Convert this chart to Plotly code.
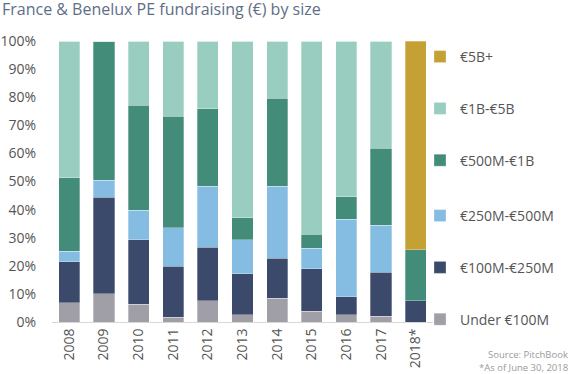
import plotly.graph_objects as go

years = ["2008", "2009", "2010", "2011", "2012", "2013", "2014", "2015", "2016", "2017", "2018*"]
series_names = ["Under €100M", "€100M-€250M", "€250M-€500M", "€500M-€1B", "€1B-€5B", "€5B+"]
under_100m = [6.8, 10.1, 6.3, 1.7, 7.6, 2.5, 8.4, 3.8, 2.5, 2.0, 0.0]
m100_250 = [14.7, 34.3, 22.9, 18.1, 19.0, 14.7, 14.3, 15.1, 6.4, 15.7, 7.5]
m250_500 = [3.6, 6.1, 10.6, 13.7, 21.7, 12.0, 25.6, 7.3, 27.6, 16.7, 0.0]
m500_1b = [26.2, 49.5, 37.3, 39.8, 27.6, 7.9, 31.4, 5.0, 8.0, 27.5, 18.3]
b1_5 = [48.7, 0.0, 22.9, 26.7, 24.1, 62.9, 20.3, 68.8, 55.5, 38.1, 0.0]
b5_plus = [0, 0, 0, 0, 0, 0, 0, 0, 0, 0, 74.2]
values = [under_100m, m100_250, m250_500, m500_1b, b1_5, b5_plus]
colors = ["#A09FA7", "#3B4A6B", "#85BCE1", "#438C7A", "#99CDBF", "#C4A035"]
legend_ids = ["legend2", "legend2", "legend2", "legend", "legend", "legend"]
y_ticks = [0, 10, 20, 30, 40, 50, 60, 70, 80, 90, 100]
y_tick_labels = [f"{v}%" for v in y_ticks]

W, H = 574, 374
ML, MR, MT, MB = 52, 141, 41, 52
PW, PH = W - ML - MR, H - MT - MB


def px_x(p):
    return (p - ML) / PW


def px_y(p):
    return (H - MB - p) / PH


fig = go.Figure()
n = len(series_names)
for i, (name, vals, col, lg) in enumerate(zip(series_names, values, colors, legend_ids)):
    fig.add_trace(go.Bar(
        x=years, y=vals, name=name, legendgroup=name, legendrank=n - i, legend=lg,
        marker=dict(color=col, line=dict(color="rgba(255,255,255,0.6)", width=0.5)),
    ))

font_family = "Open Sans, Lato, sans-serif"
legend_style = dict(xanchor="left", xref="paper", yanchor="top", yref="paper",
                    traceorder="grouped", tracegroupgap=30.6,
                    font=dict(size=14, color="#555555", family=font_family), itemwidth=30,
                    bgcolor="rgba(0,0,0,0)")
fig.update_layout(
    barmode="stack",
    bargap=0.39,
    width=W, height=H,
    margin=dict(l=ML, r=MR, t=MT, b=MB),
    paper_bgcolor="white", plot_bgcolor="white",
    font=dict(family=font_family, size=14, color="#555555"),
    title=dict(text="France & Benelux PE fundraising (€) by size",
               x=2 / W, xanchor="left", xref="container", y=1 - 9.5 / H, yanchor="middle",
               yref="container", pad=dict(l=0, t=0, b=0, r=0),
               font=dict(size=16, color="#5E6E86", family=font_family)),
    legend=dict(x=px_x(420), y=1.0, **legend_style),
    legend2=dict(x=px_x(420), y=px_y(200), **legend_style),
    showlegend=True,
)
fig.update_xaxes(showline=True, linecolor="#DDD5D5", linewidth=1, tickangle=-90,
                 ticks="", showgrid=False, automargin=False,
                 tickfont=dict(size=14, color="#555555"))
fig.update_yaxes(range=[0, 100], tickvals=y_ticks, ticktext=y_tick_labels, showgrid=False,
                 zeroline=False, ticks="outside", ticklen=12, tickcolor="rgba(0,0,0,0)",
                 automargin=False, tickfont=dict(size=14, color="#555555"))
fig.add_annotation(text="Source: PitchBook", xref="paper", yref="paper",
                   x=px_x(570), y=px_y(354.5),
                   xanchor="right", yanchor="middle", showarrow=False,
                   font=dict(size=9.5, color="#9A9A9A", family=font_family))
fig.add_annotation(text="*As of June 30, 2018", xref="paper", yref="paper",
                   x=px_x(570), y=px_y(367.5),
                   xanchor="right", yanchor="middle", showarrow=False,
                   font=dict(size=9.5, color="#9A9A9A", family=font_family))
fig.write_html("out.html", config={"displayModeBar": False},
               post_script="document.body.style.margin='0';")
